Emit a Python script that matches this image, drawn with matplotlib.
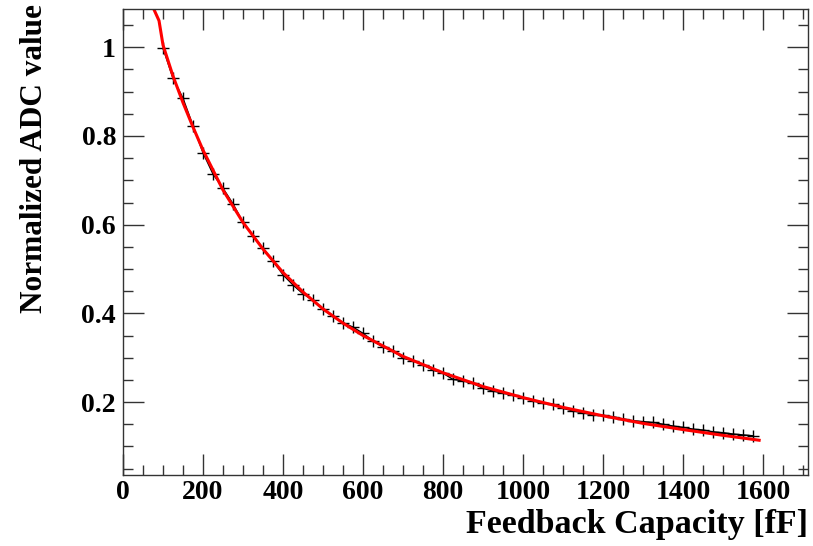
import numpy as np
import matplotlib
matplotlib.use("Agg")
import matplotlib.pyplot as plt
from matplotlib.ticker import MultipleLocator

# measured points (feedback capacity in fF, normalized ADC value)
capacity = list(range(100, 1600, 25))
adc_norm = [
    0.998, 0.930, 0.885, 0.823, 0.762, 0.714, 0.682, 0.647, 0.605, 0.575,
    0.547, 0.518, 0.487, 0.464, 0.444, 0.430, 0.409, 0.393, 0.379, 0.369,
    0.355, 0.338, 0.324, 0.316, 0.299, 0.293, 0.284, 0.272, 0.265, 0.251,
    0.248, 0.242, 0.231, 0.225, 0.220, 0.216, 0.210, 0.203, 0.197, 0.195,
    0.186, 0.180, 0.176, 0.171, 0.170, 0.167, 0.162, 0.158, 0.156, 0.154,
    0.150, 0.146, 0.143, 0.139, 0.137, 0.133, 0.131, 0.128, 0.126, 0.124,
]

# fit curve
fit_x = [60, 90, 100, 125, 150, 175, 200, 250, 300, 350, 400, 450, 500, 550,
         600, 700, 800, 900, 1000, 1100, 1200, 1300, 1400, 1500, 1590]
fit_y = [1.12, 1.06, 1.005, 0.935, 0.875, 0.820, 0.768, 0.678, 0.605, 0.545,
         0.492, 0.448, 0.410, 0.378, 0.350, 0.303, 0.266, 0.235, 0.210, 0.188,
         0.169, 0.152, 0.138, 0.125, 0.114]

plt.rcParams['font.family'] = ['Liberation Serif', 'DejaVu Serif']
plt.rcParams['font.weight'] = 'bold'

fig = plt.figure(figsize=(8.13, 5.46), dpi=100)
ax = fig.add_axes([0.1513, 0.1306, 0.8425, 0.8524])

ax.plot(capacity, adc_norm, color='black', lw=1, marker='+', ms=9, mew=1)
ax.plot(fit_x, fit_y, color='red', lw=2.2)

ax.set_xlim(0, 1712)
ax.set_ylim(0.0363, 1.0857)

ax.xaxis.set_major_locator(MultipleLocator(200))
ax.xaxis.set_minor_locator(MultipleLocator(50))
ax.yaxis.set_major_locator(MultipleLocator(0.2))
ax.yaxis.set_minor_locator(MultipleLocator(0.05))
ax.tick_params(which='both', direction='in', top=True, right=True,
               labelsize=20, width=1, color='#333333')
ax.tick_params(axis='x', pad=4)
ax.tick_params(axis='y', pad=5)
ax.tick_params(which='major', length=15)
ax.tick_params(which='minor', length=7.5)
ax.set_yticks([0.2, 0.4, 0.6, 0.8, 1.0])
ax.set_yticklabels(['0.2', '0.4', '0.6', '0.8', '1'])
for sp in ax.spines.values():
    sp.set_linewidth(1)
    sp.set_color('#333333')

fig.text(808 / 813, 1 - 525 / 546, 'Feedback Capacity [fF]', ha='right',
         va='center', fontsize=24.5, fontweight='bold')
fig.text(35 / 813, 1 - 4 / 546, 'Normalized ADC value', rotation=90,
         ha='center', va='top', fontsize=22.5, fontweight='bold')

fig.savefig('out.png', dpi=100)
